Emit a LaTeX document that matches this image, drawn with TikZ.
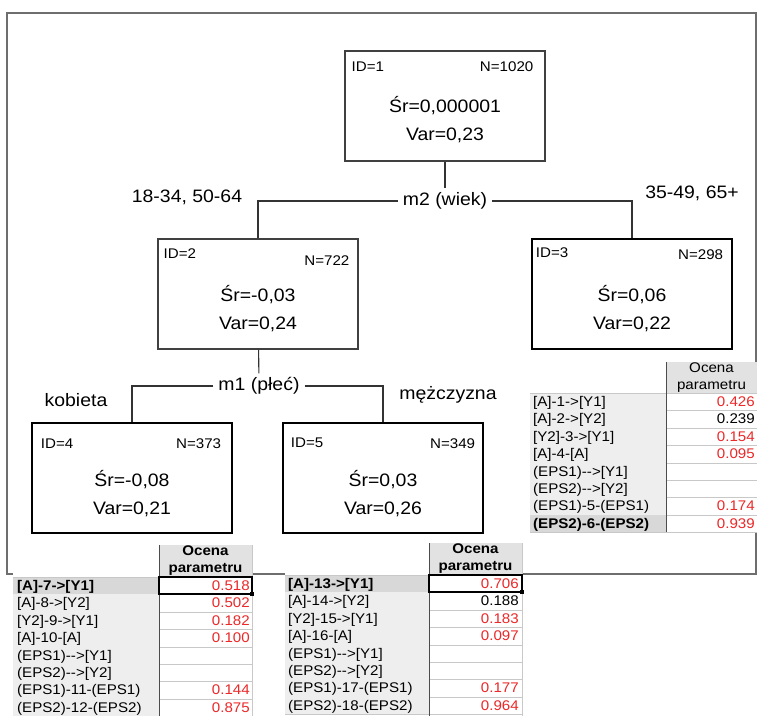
\documentclass[tikz,border=0pt]{standalone}
\usepackage{fontspec}
\setmainfont{Liberation Sans}[FakeStretch=1.08]
\usetikzlibrary{positioning}

\definecolor{valred}{RGB}{236,40,40}
\definecolor{framegray}{RGB}{110,110,110}
\definecolor{cellgray}{RGB}{238,238,238}
\definecolor{boldgray}{RGB}{216,216,216}
\definecolor{headgray}{RGB}{226,226,226}
\definecolor{sepgray}{RGB}{200,200,200}

\begin{document}
\begin{tikzpicture}[x=1pt, y=-1pt,
    splitbox/.style={draw=black!75, line width=1.1pt, minimum width=200pt, minimum height=110pt, inner sep=0pt},
    leafbox/.style={splitbox, draw=black, line width=2.6pt},
    idlbl/.style={font=\fontsize{14}{16}\selectfont, inner sep=0pt},
    stat/.style={font=\fontsize{18}{28}\selectfont, align=center, inner sep=0pt},
    splitlbl/.style={font=\fontsize{18}{20}\selectfont, inner xsep=5pt, inner ysep=4pt},
    brlbl/.style={font=\fontsize{18}{20}\selectfont, inner sep=0pt},
    conn/.style={draw=black!80, line width=1.1pt},
    thead/.style={font=\fontsize{14}{17}\selectfont, align=center, inner sep=0pt},
    theadb/.style={thead, font=\fontsize{14}{17}\selectfont\bfseries},
    tlbl/.style={font=\fontsize{14}{16}\selectfont, anchor=base west, inner sep=0pt},
    tval/.style={font=\fontsize{14}{16}\selectfont, anchor=base east, inner sep=0pt},
    rowsep/.style={draw=sepgray, line width=1pt},
    coldiv/.style={draw=black!70, line width=1pt},
    selcell/.style={draw=black, line width=2pt}
]
    \useasboundingbox (0,0) rectangle (757,715);

    % outer frame
    \draw[framegray, line width=1.2pt] (7,13) rectangle (756,574);

    % tree boxes
    \node[splitbox] (n1) at (445,106) {};
    \node[idlbl, below right=11pt and 7pt of n1.north west] (n1id) {ID=1};
    \node[idlbl, below left=11pt and 12pt of n1.north east] (n1n) {N=1020};
    \node[stat, below=46pt of n1.north] (n1s) {Śr=0,000001\\Var=0,23};

    \node[splitbox] (n2) at (258,294) {};
    \node[idlbl, below right=10pt and 6pt of n2.north west] (n2id) {ID=2};
    \node[idlbl, below left=17pt and 9pt of n2.north east] (n2n) {N=722};
    \node[stat, below=47pt of n2.north] (n2s) {Śr=-0,03\\Var=0,24};

    \node[leafbox] (n3) at (632,294) {};
    \node[idlbl, below right=10pt and 5pt of n3.north west] (n3id) {ID=3};
    \node[idlbl, below left=12pt and 10pt of n3.north east] (n3n) {N=298};
    \node[stat, below=47pt of n3.north] (n3s) {Śr=0,06\\Var=0,22};

    \node[leafbox] (n4) at (132,478) {};
    \node[idlbl, below right=17pt and 10pt of n4.north west] (n4id) {ID=4};
    \node[idlbl, below left=17pt and 12pt of n4.north east] (n4n) {N=373};
    \node[stat, below=48pt of n4.north] (n4s) {Śr=-0,08\\Var=0,21};

    \node[leafbox] (n5) at (383,478) {};
    \node[idlbl, below right=16pt and 9pt of n5.north west] (n5id) {ID=5};
    \node[idlbl, below left=17pt and 9pt of n5.north east] (n5n) {N=349};
    \node[stat, below=48pt of n5.north] (n5s) {Śr=0,03\\Var=0,26};

    % splits
    \node[splitlbl] (m2) at (445,201) {m2 (wiek)};
    \node[splitlbl] (m1) at (259,386) {m1 (płeć)};
    \draw[conn] (n1) -- (m2);
    \draw[conn] (m2) -| (n2);
    \draw[conn] (m2) -| (n3);
    \draw[conn] (n2) -- (m1);
    \draw[conn] (m1) -| (n4);
    \draw[conn] (m1) -| (n5);

    \node[brlbl] (b2) at (187,197) {18-34, 50-64};
    \node[brlbl] (b3) at (692,193) {35-49, 65+};
    \node[brlbl] (b4) at (76,400) {kobieta};
    \node[brlbl] (b5) at (448,395) {mężczyzna};

    % table under ID=3
    \fill[white] (530,362) rectangle (757,533);
    \fill[headgray] (666,362) rectangle (757,393);
    \node[thead] (t3h) at (711.5,377.5) {Ocena\\parametru};
    \foreach \i/\lbl/\val/\vc/\fc in {
        0/[A]-1->[Y1]/0.426/valred/cellgray,
        1/[A]-2->[Y2]/0.239/black/cellgray,
        2/[Y2]-3->[Y1]/0.154/valred/cellgray,
        3/[A]-4-[A]/0.095/valred/cellgray,
        4/(EPS1)-\kern0pt->[Y1]//black/cellgray,
        5/(EPS2)-\kern0pt->[Y2]//black/cellgray,
        6/(EPS1)-5-(EPS1)/0.174/valred/cellgray,
        7/\bfseries (EPS2)-6-(EPS2)/0.939/valred/boldgray}{
        \pgfmathsetmacro\ry{round(393+17.4*\i)}
        \pgfmathsetmacro\rn{round(393+17.4*(\i+1))}
        \fill[\fc] (530,\ry) rectangle (666,\rn);
        \draw[rowsep] (530,\rn) -- (757,\rn);
        \node[tlbl] (t3l\i) at (533,\ry+13.5) {\lbl};
        \node[tval, text=\vc] (t3v\i) at (755,\ry+13.5) {\val};
    }
    \draw[rowsep] (530,393) -- (757,393);
    \draw[coldiv] (666,362) -- (666,532);

    % table under ID=4
    \fill[white] (13,545) rectangle (252,716);
    \fill[headgray] (159,545) rectangle (252,577);
    \node[theadb] (t4h) at (205.5,561) {Ocena\\parametru};
    \foreach \i/\lbl/\val/\vc/\fc in {
        0/\bfseries [A]-7->[Y1]/0.518/valred/boldgray,
        1/[A]-8->[Y2]/0.502/valred/cellgray,
        2/[Y2]-9->[Y1]/0.182/valred/cellgray,
        3/[A]-10-[A]/0.100/valred/cellgray,
        4/(EPS1)-\kern0pt->[Y1]//black/cellgray,
        5/(EPS2)-\kern0pt->[Y2]//black/cellgray,
        6/(EPS1)-11-(EPS1)/0.144/valred/cellgray,
        7/(EPS2)-12-(EPS2)/0.875/valred/cellgray}{
        \pgfmathsetmacro\ry{round(577+17.4*\i)}
        \pgfmathsetmacro\rn{round(577+17.4*(\i+1))}
        \fill[\fc] (13,\ry) rectangle (159,\rn);
        \draw[rowsep] (13,\rn) -- (252,\rn);
        \node[tlbl] (t4l\i) at (17,\ry+13.5) {\lbl};
        \node[tval, text=\vc] (t4v\i) at (250,\ry+13.5) {\val};
    }
    \draw[rowsep] (13,577) -- (252,577);
    \draw[rowsep] (252,545) -- (252,716);
    \draw[coldiv] (159,545) -- (159,716);
    \draw[selcell] (159,577) rectangle (252,594);
    \fill (250,592) rectangle (254,596);

    % table under ID=5
    \fill[white] (285,543) rectangle (522,716);
    \fill[headgray] (429,543) rectangle (522,575);
    \node[theadb] (t5h) at (475.5,559) {Ocena\\parametru};
    \foreach \i/\lbl/\val/\vc/\fc in {
        0/\bfseries [A]-13->[Y1]/0.706/valred/boldgray,
        1/[A]-14->[Y2]/0.188/black/cellgray,
        2/[Y2]-15->[Y1]/0.183/valred/cellgray,
        3/[A]-16-[A]/0.097/valred/cellgray,
        4/(EPS1)-\kern0pt->[Y1]//black/cellgray,
        5/(EPS2)-\kern0pt->[Y2]//black/cellgray,
        6/(EPS1)-17-(EPS1)/0.177/valred/cellgray,
        7/(EPS2)-18-(EPS2)/0.964/valred/cellgray}{
        \pgfmathsetmacro\ry{round(575+17.4*\i)}
        \pgfmathsetmacro\rn{round(575+17.4*(\i+1))}
        \fill[\fc] (285,\ry) rectangle (429,\rn);
        \draw[rowsep] (285,\rn) -- (522,\rn);
        \node[tlbl] (t5l\i) at (288,\ry+13.5) {\lbl};
        \node[tval, text=\vc] (t5v\i) at (519,\ry+13.5) {\val};
    }
    \draw[rowsep] (285,575) -- (522,575);
    \draw[rowsep] (522,543) -- (522,716);
    \draw[coldiv] (429,543) -- (429,716);
    \draw[selcell] (429,575) rectangle (522,592);
    \fill (520,590) rectangle (524,594);
\end{tikzpicture}
\end{document}
